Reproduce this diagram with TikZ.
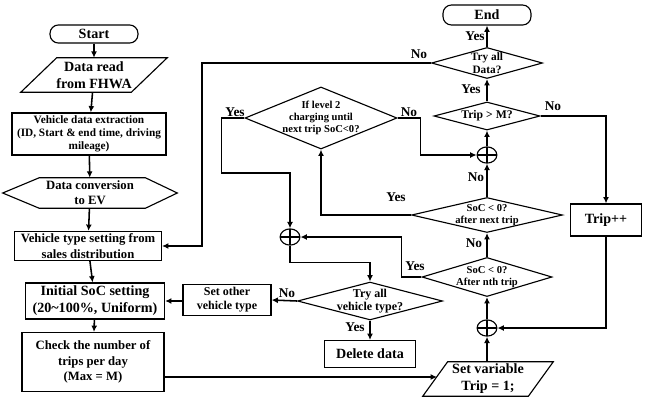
\documentclass[tikz,border=0pt]{standalone}
\usepackage{fontspec}
\setmainfont{Liberation Serif}
\usetikzlibrary{shapes.geometric,arrows.meta}

\tikzset{
  shp/.style={line width=0.8pt},
  box/.style={draw, shp, align=center, inner sep=1pt, font=\bfseries\fontsize{9}{10.8}\selectfont},
  big/.style={font=\bfseries\fontsize{10}{12}\selectfont},
  term/.style={box, big, rounded corners=6pt},
  txt/.style={align=center, inner sep=1pt},
  dec/.style={draw, shp, diamond, inner sep=0pt},
  dectext/.style={align=center, inner sep=0pt, font=\bfseries\fontsize{7.5}{8.6}\selectfont},
  sum/.style={draw, shp, ellipse, inner sep=0pt, minimum width=14pt, minimum height=11.5pt,
    path picture={\draw[shp] (path picture bounding box.north) -- (path picture bounding box.south)
      (path picture bounding box.west) -- (path picture bounding box.east);}},
  arr/.style={line width=1.1pt, -{Latex[length=4.5pt,width=4.2pt]}},
  lab/.style={inner sep=0pt, font=\bfseries\fontsize{9.5}{11}\selectfont}
}

\begin{document}
\begin{tikzpicture}[x=0.709pt,y=-0.709pt]
\useasboundingbox (0,0) rectangle (652,398);

% left column
\node[term, minimum width=62.4pt, minimum height=12.8pt] (start) at (94,34) {Start};
\node[txt, big, minimum width=103.5pt, minimum height=24.1pt] (read) at (94,75) {Data read\\from FHWA};
\draw[shp] ([xshift=25.5pt]read.north west) -- (read.north east) -- ([xshift=-25.5pt]read.south east) -- (read.south west) -- cycle;
\node[box, font=\bfseries\fontsize{8}{9.4}\selectfont, minimum width=109.2pt, minimum height=29.8pt] (extract) at (89,134) {Vehicle data extraction\\(ID, Start \& end time, driving\\mileage)};
\node[txt, font=\bfseries\fontsize{9}{10.8}\selectfont, minimum width=123.4pt, minimum height=21.3pt] (conv) at (90,193) {Data conversion\\to EV};
\draw[shp] (conv.west) -- ([xshift=26pt]conv.north west) -- ([xshift=-22.7pt]conv.north east) -- (conv.east)
  -- ([xshift=-22.7pt]conv.south east) -- ([xshift=26pt]conv.south west) -- cycle;
\node[box, minimum width=104.2pt, minimum height=20.6pt] (vtype) at (88,246) {Vehicle type setting from\\sales distribution};
\node[box, big, minimum width=98.6pt, minimum height=25.5pt] (init) at (95,301) {Initial SoC setting\\(20\textasciitilde100\%, Uniform)};
\node[box, minimum width=100.7pt, minimum height=41.8pt] (check) at (93,362) {Check the number of\\trips per day\\(Max = M)};

% middle
\node[dec, minimum width=107.8pt, minimum height=44pt,
  label={[dectext]center:{If level 2\\charging until\\next trip SoC<0?}}] (lvl) at (321,118) {};
\node[sum] (sumC) at (290,237) {};
\node[dec, minimum width=102.8pt, minimum height=26.9pt,
  label={[dectext, font=\bfseries\fontsize{8.5}{9.6}\selectfont]center:{Try all\\vehicle type?}}] (allveh) at (370,301) {};
\node[box, font=\bfseries\fontsize{8.5}{10}\selectfont, minimum width=62.4pt, minimum height=22pt] (other) at (227,300) {Set other\\vehicle type};
\node[box, big, minimum width=64.5pt, minimum height=19.1pt] (del) at (370,354) {Delete data};

% right column
\node[term, minimum width=62.4pt, minimum height=14.2pt] (end) at (487,15) {End};
\node[dec, minimum width=78.7pt, minimum height=22pt,
  label={[dectext, font=\bfseries\fontsize{8}{9.2}\selectfont]center:{Try all\\Data?}}] (alldata) at (487,63) {};
\node[dec, minimum width=75.2pt, minimum height=19.9pt,
  label={[dectext, font=\bfseries\fontsize{8.3}{9.5}\selectfont]center:{Trip > M?}}] (tripm) at (487,116) {};
\node[sum] (sumB) at (487,155) {};
\node[dec, minimum width=107pt, minimum height=24.8pt,
  label={[dectext]center:{SoC < 0?\\after next trip}}] (next) at (487,215) {};
\node[dec, minimum width=92.2pt, minimum height=27.7pt,
  label={[dectext]center:{SoC < 0?\\After nth trip}}] (nth) at (487,277) {};
\node[sum] (sumA) at (487,328) {};
\node[txt, big, minimum width=92.2pt, minimum height=24.1pt] (setvar) at (488,379) {Set variable\\Trip = 1;};
\draw[shp] ([xshift=17.7pt]setvar.north west) -- (setvar.north east) -- ([xshift=-17.7pt]setvar.south east) -- (setvar.south west) -- cycle;
\coordinate (svin) at (437,377);
\node[box, big, minimum width=50.3pt, minimum height=22.7pt] (inc) at (606,220) {Trip++};

% connectors
\draw[arr] (start) -- (read);
\draw[arr] (read) -- (extract);
\draw[arr] (extract) -- (conv);
\draw[arr] (conv) -- (vtype);
\draw[arr] (vtype) -- (init);
\draw[arr] (init) -- (check);
\draw[arr] (check.east |- svin) -- (svin);
\draw[arr] (setvar.north -| sumA) -- (sumA);
\draw[arr] (sumA) -- (nth);
\draw[arr] (nth) -- (next);
\draw[arr] (next) -- (sumB);
\draw[arr] (sumB) -- (tripm);
\draw[arr] (tripm) -- (alldata);
\draw[arr] (alldata) -- (end);
\draw[arr] (alldata.west) -- ++(-229,0) |- (vtype.east);
\draw[arr] (tripm.east) -| (inc.north);
\draw[arr] (inc.south) |- (sumA.east);
\draw[arr] (next.west) -| (lvl.south);
\draw[arr] (lvl.east) -- ++(23,0) |- (sumB.west);
\draw[arr] (lvl.west) -- ++(-23,0) -- ++(0,55) -| (sumC.north);
\draw[arr] (nth.west) -- ++(-20,0) |- (sumC.east);
\draw[arr] (sumC.south) -- ++(0,17) -| (allveh.north);
\draw[arr] (allveh.west) -- (other.east);
\draw[arr] (other.west) -- (init.east -| other.west) -- (init.east);
\draw[arr] (allveh) -- (del);

% yes / no
\node[lab] (n1) at (419,54) {No};
\node[lab] (y1) at (475,36) {Yes};
\node[lab] (y2) at (471,89) {Yes};
\node[lab] (n2) at (553,106) {No};
\node[lab] (n3) at (409,112) {No};
\node[lab] (y3) at (235,112) {Yes};
\node[lab] (n4) at (476,177) {No};
\node[lab] (n5) at (474,243) {No};
\node[lab] (y4) at (396,197) {Yes};
\node[lab] (y5) at (415,266) {Yes};
\node[lab] (n6) at (287,293) {No};
\node[lab] (y6) at (355,327) {Yes};
\end{tikzpicture}
\end{document}
